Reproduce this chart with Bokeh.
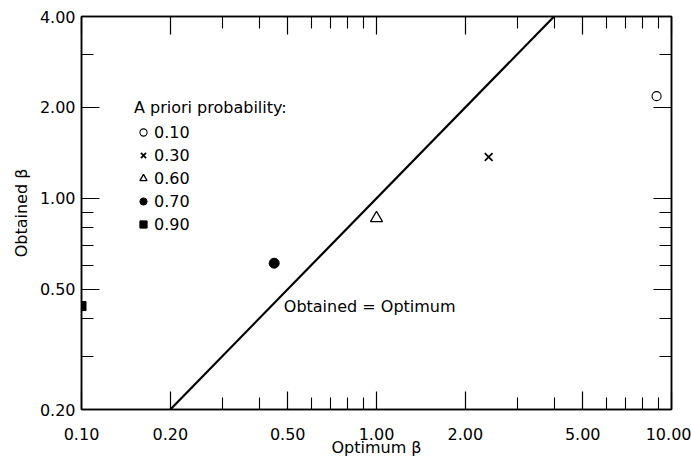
from bokeh.plotting import figure
from bokeh.models import (LogAxis, FixedTicker, PrintfTickFormatter, Legend,
                          LegendItem, Label, CustomJSTickFormatter)
from bokeh.embed import file_html
from bokeh.resources import INLINE

# ---- data ----
prob_labels = ["0.10", "0.30", "0.60", "0.70", "0.90"]
optimum_beta = [8.9, 2.4, 1.0, 0.45, 0.10]
obtained_beta = [2.18, 1.37, 0.86, 0.61, 0.44]

x_major_ticks = [0.1, 0.2, 0.5, 1.0, 2.0, 5.0, 10.0]
x_minor_ticks = [0.3, 0.4, 0.6, 0.7, 0.8, 0.9, 3, 4, 6, 7, 8, 9]
y_major_ticks = [0.2, 0.5, 1.0, 2.0, 4.0]
y_minor_ticks = [0.3, 0.4, 0.6, 0.7, 0.8, 0.9, 3]

identity_line = [0.2, 4.0]
identity_label = "Obtained = Optimum"

# ---- styles ----
FONT = "DejaVu Sans"
marker_style = {
    "0.10": dict(marker="circle", size=9, fill_color="white", line_width=1.1),
    "0.30": dict(marker="x", size=11, fill_color="black", line_width=1.7),
    "0.60": dict(marker="triangle", size=12, fill_color="white", line_width=1.3),
    "0.70": dict(marker="circle", size=10, fill_color="black", line_width=1),
    "0.90": dict(marker="square", size=9, fill_color="black", line_width=1),
}

p = figure(width=691, height=460, x_axis_type="log", y_axis_type="log",
           x_range=(0.1, 10.0), y_range=(0.2, 4.0),
           output_backend="svg", toolbar_location=None,
           min_border_left=81, min_border_right=20, min_border_top=16,
           min_border_bottom=51)
p.grid.visible = False
p.outline_line_color = "black"
p.outline_line_width = 1.5
p.background_fill_color = "white"
p.border_fill_color = "white"


def style_axis(ax, major, minor, show_labels):
    ax.ticker = FixedTicker(ticks=major, minor_ticks=minor)
    ax.major_tick_in = 18
    ax.major_tick_out = 0
    ax.minor_tick_in = 12
    ax.minor_tick_out = 0
    ax.major_tick_line_color = "black"
    ax.minor_tick_line_color = "black"
    ax.major_tick_line_width = 1.2
    ax.minor_tick_line_width = 1.1
    ax.axis_line_color = "black"
    ax.axis_line_width = 1.5
    ax.major_label_text_font = FONT
    ax.major_label_text_color = "black"
    ax.major_label_text_font_size = "16px"
    if show_labels:
        ax.formatter = PrintfTickFormatter(format="%.2f")
    else:
        ax.formatter = CustomJSTickFormatter(code="return '';")
        ax.major_label_standoff = 0


style_axis(p.xaxis[0], x_major_ticks, x_minor_ticks, True)
style_axis(p.yaxis[0], y_major_ticks, y_minor_ticks, True)
p.xaxis[0].major_label_standoff = 18
p.yaxis[0].major_label_standoff = 6

for ax, lab in ((p.xaxis[0], "Optimum β"), (p.yaxis[0], "Obtained β")):
    ax.axis_label = lab
    ax.axis_label_text_font = FONT
    ax.axis_label_text_font_size = "16px"
    ax.axis_label_text_font_style = "normal"
    ax.axis_label_text_color = "black"
p.xaxis[0].axis_label_standoff = -5
p.yaxis[0].axis_label_standoff = 6

top_axis = LogAxis()
style_axis(top_axis, x_major_ticks, x_minor_ticks, False)
p.add_layout(top_axis, "above")
right_axis = LogAxis()
style_axis(right_axis, y_major_ticks, y_minor_ticks, False)
p.add_layout(right_axis, "right")

# identity line
p.line(identity_line, identity_line, line_color="black", line_width=2.2)
p.add_layout(Label(x=0.485, y=0.44, text=identity_label, text_baseline="middle",
                   text_align="left", text_font=FONT, text_font_size="16px",
                   text_color="black"))

items = []
for lab, xo, yo in zip(prob_labels, optimum_beta, obtained_beta):
    st = marker_style[lab]
    r = p.scatter(x=[xo], y=[yo], marker=st["marker"], size=st["size"],
                  fill_color=st["fill_color"], line_color="black",
                  line_width=st["line_width"])
    items.append(LegendItem(label=lab, renderers=[r]))

legend = Legend(items=items, location=(53, 174), title="A priori probability:",
                title_text_font=FONT, title_text_font_size="16px",
                title_text_font_style="normal", title_text_color="black",
                title_standoff=4,
                label_text_font=FONT, label_text_font_size="16px",
                label_text_color="black",
                glyph_width=18, glyph_height=22, label_height=22,
                label_standoff=2, spacing=1, padding=0, margin=0,
                border_line_color=None, background_fill_alpha=0)
p.add_layout(legend)

open("out.html", "w").write(file_html(p, INLINE))
